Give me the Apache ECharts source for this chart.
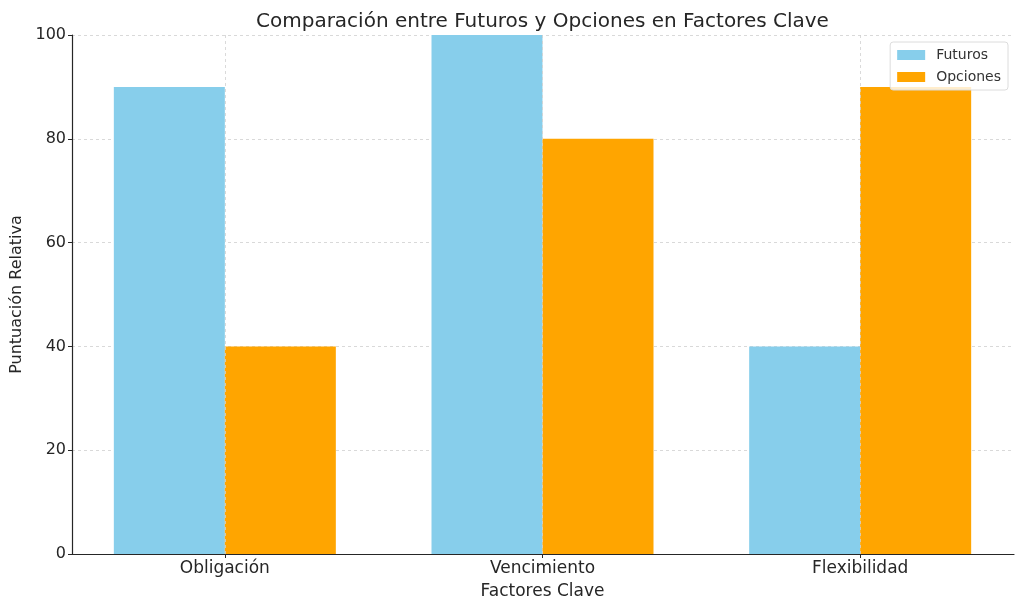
<!DOCTYPE html>
<html><head><meta charset="utf-8">
<script src="https://cdn.jsdelivr.net/npm/echarts@6/dist/echarts.min.js"></script>
<style>html,body{margin:0;padding:0;background:#fff}#c{width:1024px;height:610px}</style>
</head><body><div id="c"></div>
<script>
const categories = ['Obligación', 'Vencimiento', 'Flexibilidad'];
const futuros = [90, 100, 40];
const opciones = [40, 80, 90];
const yTicks = [0, 20, 40, 60, 80, 100];

const font = 'DejaVu Sans';
const ink = '#262626';
const gridLine = { color: '#d0d0d0', type: [3, 3], width: 0.8 };
const chart = echarts.init(document.getElementById('c'));
chart.setOption({
  animation: false,
  textStyle: { fontFamily: font },
  title: {
    text: 'Comparación entre Futuros y Opciones en Factores Clave',
    left: 251, top: 7,
    textStyle: { fontFamily: font, fontSize: 20, fontWeight: 'normal', color: ink }
  },
  legend: {
    data: ['Futuros', 'Opciones'],
    icon: 'rect',
    orient: 'vertical', right: 16, top: 42,
    itemWidth: 28, itemHeight: 10, itemGap: 8,
    padding: [6, 7, 6, 7],
    borderColor: '#dcdcdc', borderWidth: 1, borderRadius: 3,
    backgroundColor: 'rgba(255,255,255,0.8)',
    textStyle: { fontFamily: font, fontSize: 14, color: '#333', padding: [0, 0, 0, 6] }
  },
  grid: [
    { left: 66, right: 5, top: 35, bottom: 56 },
    { left: 72, right: 10, top: 35, bottom: 56 }
  ],
  xAxis: [
    {
      type: 'category', data: categories, gridIndex: 0,
      name: 'Factores Clave', nameLocation: 'middle', nameGap: 29,
      nameTextStyle: { fontFamily: font, fontSize: 17, color: ink },
      axisLine: { show: false },
      axisTick: { show: true, alignWithLabel: true, length: 4, lineStyle: { color: ink } },
      axisLabel: { fontFamily: font, fontSize: 17, color: ink, margin: 6 },
      splitLine: { show: false }
    },
    {
      type: 'value', gridIndex: 1, min: 0, max: 1,
      axisLine: { show: true, lineStyle: { color: ink, width: 1.2 } },
      axisTick: { show: false }, axisLabel: { show: false }, splitLine: { show: false }
    }
  ],
  yAxis: [
    {
      type: 'value', gridIndex: 0, min: 0, max: 100, interval: 20,
      axisLine: { show: false }, axisTick: { show: false },
      axisLabel: { show: false }, splitLine: { show: false }
    },
    {
      type: 'value', gridIndex: 1, min: 0, max: 100, interval: 20,
      name: 'Puntuación Relativa', nameLocation: 'middle', nameGap: 44,
      nameTextStyle: { fontFamily: font, fontSize: 16, color: ink },
      axisLine: { show: true, lineStyle: { color: ink, width: 1.2 } },
      axisTick: { show: true, length: 4, lineStyle: { color: ink } },
      axisLabel: { fontFamily: font, fontSize: 16, color: ink, margin: 6 },
      splitLine: { show: true, lineStyle: gridLine }
    }
  ],
  series: [
    {
      name: 'grid', type: 'line', data: [], z: 0, silent: true,
      xAxisIndex: 0, yAxisIndex: 0,
      markLine: {
        silent: true, symbol: 'none', label: { show: false },
        lineStyle: gridLine,
        data: categories.map(c => ({ xAxis: c }))
      }
    },
    {
      name: 'Futuros', type: 'bar', data: futuros, z: 3,
      xAxisIndex: 0, yAxisIndex: 0,
      barWidth: 111, barGap: '0%',
      itemStyle: { color: '#87CEEB' }
    },
    {
      name: 'Opciones', type: 'bar', data: opciones, z: 3,
      xAxisIndex: 0, yAxisIndex: 0,
      barWidth: 111, barGap: '0%',
      itemStyle: { color: '#FFA500' }
    }
  ]
});
</script></body></html>
